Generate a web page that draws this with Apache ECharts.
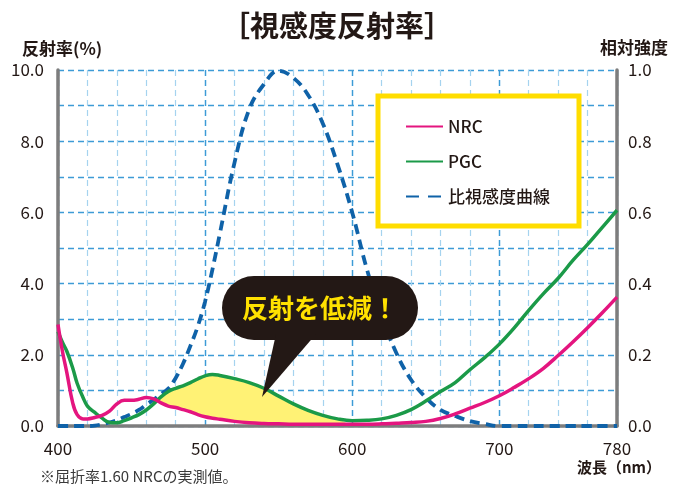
<!DOCTYPE html>
<html><head><meta charset="utf-8">
<script src="https://cdn.jsdelivr.net/npm/echarts@6/dist/echarts.min.js"></script>
<style>html,body{margin:0;padding:0;background:#fff}#c{width:674px;height:491px}</style>
</head><body><div id="c"></div>
<script>
// wavelength (nm)
const wavelengths = [400,403,406,410,413,417,420,425,430,435,440,445,450,455,460,465,470,475,480,485,490,495,500,505,510,520,530,540,550,560,570,580,590,600,610,620,630,640,650,660,670,680,690,700,710,720,730,740,750,760,770,780];
// reflectance (%) NRC
const nrc = [2.85,2.1,1.5,0.65,0.32,0.2,0.2,0.24,0.3,0.42,0.62,0.72,0.72,0.75,0.8,0.76,0.65,0.56,0.52,0.46,0.4,0.32,0.26,0.22,0.19,0.13,0.09,0.07,0.06,0.05,0.05,0.05,0.05,0.05,0.05,0.06,0.08,0.1,0.13,0.21,0.34,0.5,0.66,0.85,1.08,1.33,1.62,1.98,2.36,2.76,3.18,3.62];
// reflectance (%) PGC
const pgc = [2.65,2.35,2.1,1.63,1.2,0.8,0.56,0.38,0.22,0.1,0.09,0.15,0.23,0.32,0.45,0.62,0.82,0.97,1.06,1.13,1.22,1.32,1.41,1.45,1.42,1.33,1.22,1.06,0.84,0.62,0.44,0.3,0.2,0.15,0.16,0.2,0.3,0.46,0.7,0.97,1.22,1.58,1.92,2.3,2.75,3.25,3.72,4.15,4.65,5.1,5.58,6.06];
// relative luminous efficiency
const luminosity = [0,0,0,0,0,0,0,0.001,0.005,0.01,0.016,0.025,0.034,0.045,0.06,0.074,0.09,0.105,0.135,0.175,0.225,0.28,0.35,0.44,0.54,0.74,0.89,0.96,0.998,0.978,0.93,0.85,0.735,0.6,0.44,0.31,0.205,0.13,0.08,0.045,0.028,0.014,0.006,0,0,0,0,0,0,0,0,0];
const xTickLabels = [400,500,600,700,780];
const fillFrom = 470, fillTo = 590;

const FONT = '"Noto Sans CJK JP","Noto Sans",sans-serif';
const INK = '#231815';
const pairs = arr => wavelengths.map((w,i)=>[w,arr[i]]);
// value-first rows so that stacking happens on the reflectance dimension
const rowsVF = arr => wavelengths.map((w,i)=>[arr[i],w]);
const fillDiff = wavelengths.map((w,i)=>[(w>=fillFrom&&w<=fillTo)?Math.max(0,pgc[i]-nrc[i]):0,w]);

const chart = echarts.init(document.getElementById('c'), null, {renderer:'canvas'});
chart.setOption({
  animation:false,
  backgroundColor:'#fff',
  title:{text:'［視感度反射率］',left:'center',top:6,textStyle:{fontFamily:FONT,fontSize:29,fontWeight:'bold',color:INK}},
  grid:{left:58,right:57,top:70,bottom:65},
  legend:{
    orient:'vertical',left:378,top:96,
    backgroundColor:'#fff',borderColor:'#FFDD00',borderWidth:5,borderRadius:0,
    padding:[22,29,21,27],itemGap:18,itemWidth:37,itemHeight:14,
    textStyle:{fontFamily:FONT,fontSize:17,color:INK,fontWeight:500},
    itemStyle:{opacity:0},
    lineStyle:{opacity:1},
    data:[
      {name:'NRC'},
      {name:'PGC'},
      {name:'比視感度曲線',lineStyle:{type:[13,9],opacity:1}}
    ],
    z:10
  },
  xAxis:[{
    type:'value',min:400,max:780,interval:20,
    axisLine:{show:true,onZero:false,lineStyle:{color:'#7d7d7d',width:3.5}},
    axisTick:{show:false},
    axisLabel:{margin:14,fontFamily:FONT,fontSize:17,color:INK,
      formatter:v=>xTickLabels.includes(v)?String(v):''},
    splitLine:{show:true,lineStyle:{color:'#a5d3ef',width:1.2,type:[6,4]}}
  },{
    type:'value',min:400,max:780,interval:100,position:'bottom',
    axisLine:{show:false},axisTick:{show:false},axisLabel:{show:false},
    splitLine:{show:true,lineStyle:{color:'#3d9bd6',width:1.4,type:[6,4]}}
  }],
  yAxis:[{
    type:'value',min:0,max:10,interval:1,
    axisLine:{show:true,lineStyle:{color:'#7d7d7d',width:3.5}},
    axisTick:{show:false},
    axisLabel:{margin:14,fontFamily:FONT,fontSize:17,color:INK,
      formatter:v=>(Math.round(v)%2===0)?v.toFixed(1):''},
    splitLine:{show:true,lineStyle:{color:'#3d9bd6',width:1.4,type:[6,4]}}
  },{
    type:'value',min:0,max:1,interval:0.2,position:'right',
    axisLine:{show:true,lineStyle:{color:'#7d7d7d',width:3.5}},
    axisTick:{show:false},
    axisLabel:{margin:11,fontFamily:FONT,fontSize:17,color:INK,formatter:v=>v.toFixed(1)},
    splitLine:{show:false}
  }],
  series:[
    {name:'NRC',type:'line',data:rowsVF(nrc),encode:{x:1,y:0},smooth:0.4,symbol:'none',stack:'fill',
      lineStyle:{color:'#E4157F',width:3.5},itemStyle:{color:'#E4157F'},z:4},
    {name:'fill',type:'line',data:fillDiff,encode:{x:1,y:0},smooth:0.4,symbol:'none',stack:'fill',
      lineStyle:{width:0,opacity:0},areaStyle:{color:'#FFF275',opacity:1},z:1,silent:true},
    {name:'PGC',type:'line',data:pairs(pgc),smooth:0.4,symbol:'none',
      lineStyle:{color:'#1B9A48',width:3.5},itemStyle:{color:'#1B9A48'},z:3},
    {name:'比視感度曲線',type:'line',yAxisIndex:1,data:pairs(luminosity),smooth:0.4,symbol:'none',
      lineStyle:{color:'#0F62A8',width:3.8,type:[10,6]},itemStyle:{color:'#0F62A8'},z:2}
  ],
  graphic:[
    {type:'text',left:22,top:40,z:50,style:{text:'反射率(%)',font:'bold 17px '+FONT,fill:INK}},
    {type:'text',right:6,top:39,z:50,style:{text:'相対強度',font:'bold 17px '+FONT,fill:INK}},
    {type:'text',right:13,top:460,z:50,style:{text:'波長（nm）',font:'bold 15px '+FONT,fill:INK}},
    {type:'text',left:40,top:469,z:50,style:{text:'※屈折率1.60 NRCの実測値。',font:'15px '+FONT,fill:'#3a3a3a'}},
    {type:'rect',z:100,shape:{x:222,y:276,width:196,height:64,r:32},style:{fill:INK}},
    {type:'polygon',z:100,shape:{points:[[276,334],[316,334],[262,397]]},style:{fill:INK}},
    {type:'text',z:101,x:320,y:308,style:{text:'反射を低減！',font:'bold 26px '+FONT,fill:'#FFE100',align:'center',verticalAlign:'middle'}}
  ]
});
</script></body></html>
